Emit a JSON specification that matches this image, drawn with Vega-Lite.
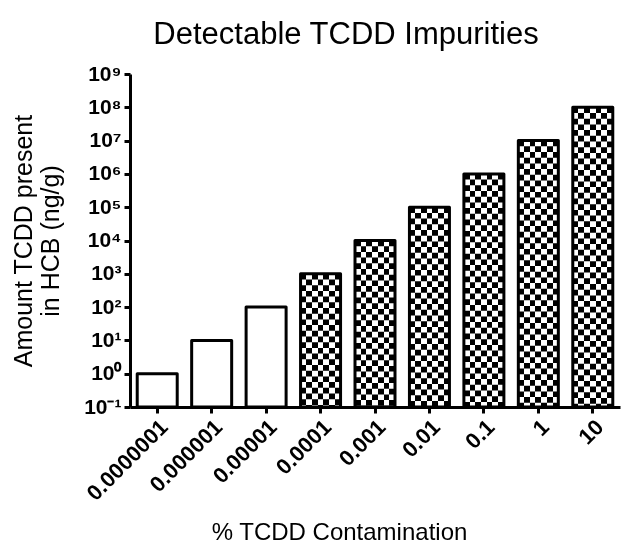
{
  "$schema": "https://vega.github.io/schema/vega-lite/v6.json",
  "autosize": {"type": "none"},
  "width": 490,
  "height": 333,
  "padding": {"left": 130, "top": 74, "right": 2, "bottom": 139},
  "background": "white",
  "title": {
    "text": "Detectable TCDD Impurities",
    "font": "Liberation Sans",
    "fontSize": 31,
    "fontWeight": "normal",
    "color": "black",
    "anchor": "middle",
    "dx": -29,
    "offset": 12
  },
  "config": {
    "view": {"stroke": null},
    "axis": {
      "grid": false,
      "domainColor": "black",
      "domainWidth": 3,
      "tickColor": "black",
      "tickWidth": 3,
      "tickSize": 6,
      "labelFont": "Liberation Sans",
      "labelFontWeight": "bold",
      "labelFontSize": 21,
      "labelColor": "black",
      "titleFont": "Liberation Sans",
      "titleFontWeight": "normal",
      "titleColor": "black",
      "titleFontSize": 24
    }
  },
  "data": {
    "values": [
      {"pct": "0.0000001", "amount": 1, "detectable": false},
      {"pct": "0.000001", "amount": 10, "detectable": false},
      {"pct": "0.00001", "amount": 100, "detectable": false},
      {"pct": "0.0001", "amount": 1000, "detectable": true},
      {"pct": "0.001", "amount": 10000, "detectable": true},
      {"pct": "0.01", "amount": 100000, "detectable": true},
      {"pct": "0.1", "amount": 1000000, "detectable": true},
      {"pct": "1", "amount": 10000000, "detectable": true},
      {"pct": "10", "amount": 100000000, "detectable": true}
    ]
  },
  "encoding": {
    "x": {
      "field": "pct",
      "type": "nominal",
      "sort": null,
      "scale": {"paddingInner": 0, "paddingOuter": 0},
      "axis": {
        "title": "% TCDD Contamination",
        "labelAngle": -45,
        "labelAlign": "right",
        "labelBaseline": "top",
        "labelFontSize": 22,
        "labelPadding": 3,
        "titlePadding": 16,
        "titleX": 209,
        "titleAlign": "center"
      }
    },
    "y": {
      "field": "amount",
      "type": "quantitative",
      "scale": {"type": "log", "domain": [0.1, 1000000000], "nice": false},
      "axis": {
        "title": ["Amount TCDD present", "in HCB (ng/g)"],
        "titleFontSize": 25,
        "titleLineHeight": 27,
        "values": [0.1, 1, 10, 100, 1000, 10000, 100000, 1000000, 10000000, 100000000, 1000000000],
        "labelExpr": "datum.value < 1 ? '10⁻¹' : '10' + substring('⁰¹²³⁴⁵⁶⁷⁸⁹', round(log(datum.value)/LN10), round(log(datum.value)/LN10) + 1)",
        "labelPadding": 3,
        "titlePadding": 20
      }
    },
    "y2": {"datum": 0.1}
  },
  "layer": [
    {
      "mark": {"type": "bar", "width": 40, "fill": "white", "strokeWidth": 0}
    },
    {
      "transform": [{"filter": "datum.detectable"}],
      "mark": {"type": "rule", "color": "black", "strokeWidth": 40, "strokeDash": [5.7, 5.7], "strokeCap": "butt"}
    },
    {
      "transform": [{"filter": "datum.detectable"}],
      "mark": {
        "type": "bar",
        "width": 40,
        "blend": "difference",
        "strokeWidth": 0,
        "fill": {
          "gradient": "linear",
          "x1": 0, "y1": 0, "x2": 1, "y2": 0,
          "stops": [
            {"offset": 0, "color": "black"},
            {"offset": 0.142857, "color": "black"},
            {"offset": 0.142857, "color": "white"},
            {"offset": 0.285714, "color": "white"},
            {"offset": 0.285714, "color": "black"},
            {"offset": 0.428571, "color": "black"},
            {"offset": 0.428571, "color": "white"},
            {"offset": 0.571429, "color": "white"},
            {"offset": 0.571429, "color": "black"},
            {"offset": 0.714286, "color": "black"},
            {"offset": 0.714286, "color": "white"},
            {"offset": 0.857143, "color": "white"},
            {"offset": 0.857143, "color": "black"},
            {"offset": 1, "color": "black"}
          ]
        }
      }
    },
    {
      "mark": {"type": "bar", "width": 40, "fillOpacity": 0, "stroke": "black", "strokeWidth": 3, "strokeJoin": "round"}
    }
  ]
}
